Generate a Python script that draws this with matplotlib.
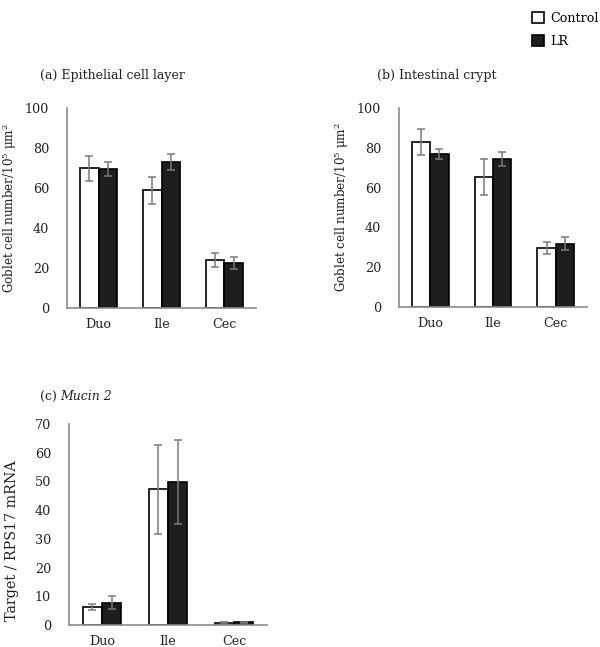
import numpy as np
import matplotlib
matplotlib.use("Agg")
import matplotlib.pyplot as plt

plt.rcParams['font.family'] = ['DejaVu Serif']
plt.rcParams['mathtext.fontset'] = 'dejavuserif'

sites = ["Duo", "Ile", "Cec"]
groups = ["Control", "LR"]

# (a) epithelial cell layer
epi_ctrl = [69.8, 58.8, 24.0]
epi_ctrl_err = [6.3, 6.8, 3.7]
epi_lr = [69.5, 72.8, 22.5]
epi_lr_err = [3.5, 4.0, 3.0]

# (b) intestinal crypt
cry_ctrl = [82.9, 65.3, 29.5]
cry_ctrl_err = [6.5, 9.0, 3.0]
cry_lr = [77.0, 74.5, 31.9]
cry_lr_err = [2.4, 3.5, 3.4]

# (c) Mucin 2
muc_ctrl = [6.2, 47.2, 0.7]
muc_ctrl_err = [1.0, 15.6, 0.2]
muc_lr = [7.8, 49.7, 0.9]
muc_lr_err = [2.2, 14.6, 0.3]

W, H = 600, 647
FS = 8.6
fig = plt.figure(figsize=(W / 100, H / 100), dpi=100)


def px_axes(left, right, top, bottom):
    return fig.add_axes([left / W, 1 - bottom / H, (right - left) / W, (bottom - top) / H])


def panel(ax, ctrl, ctrl_err, lr, lr_err, ymax, step, ylabel, lab_fs=FS):
    x = np.arange(len(sites))
    w = 0.29
    err_kw = dict(ecolor="#7a7a7a", elinewidth=1.1, capsize=3, capthick=1.1)
    b1 = ax.bar(x - w / 2, ctrl, w, yerr=ctrl_err, color="white", edgecolor="black",
                linewidth=1.2, error_kw=err_kw, label=groups[0])
    b2 = ax.bar(x + w / 2, lr, w, yerr=lr_err, color="#1e1e1e", edgecolor="black",
                linewidth=1.2, error_kw=err_kw, label=groups[1])
    ax.set_xlim(-0.5, len(sites) - 0.5)
    ax.set_ylim(0, ymax)
    ax.set_yticks(np.arange(0, ymax + 1, step))
    ax.set_xticks(x)
    ax.set_xticklabels(sites)
    for s in ["top", "right"]:
        ax.spines[s].set_visible(False)
    for s in ["left", "bottom"]:
        ax.spines[s].set_color("#8c8c8c")
        ax.spines[s].set_linewidth(1.2)
    ax.tick_params(axis="y", length=0, pad=13, labelsize=FS + 0.6, colors="#222222")
    ax.tick_params(axis="x", length=0, pad=7, labelsize=FS + 0.6, colors="#222222")
    ax.set_ylabel(ylabel, fontsize=lab_fs, color="#222222")
    return b1, b2


ax_a = px_axes(67, 256, 108, 308)
b1, b2 = panel(ax_a, epi_ctrl, epi_ctrl_err, epi_lr, epi_lr_err, 100, 20,
               r"Goblet cell number/10$^5$ μm$^2$")
ax_a.yaxis.set_label_coords(-(67 - 19) / 189, 0.5)

ax_b = px_axes(399, 587, 108, 307)
panel(ax_b, cry_ctrl, cry_ctrl_err, cry_lr, cry_lr_err, 100, 20,
      r"Goblet cell number/10$^5$ μm$^2$")
ax_b.yaxis.set_label_coords(-(399 - 351) / 188, 0.5)

ax_c = px_axes(69, 267, 424, 625)
panel(ax_c, muc_ctrl, muc_ctrl_err, muc_lr, muc_lr_err, 70, 10,
      "Target / RPS17 mRNA", lab_fs=10.3)
ax_c.yaxis.set_label_coords(-(69 - 19) / 198, 0.42)

fig.text(40 / W, 1 - 76 / H, "(a) Epithelial cell layer", fontsize=FS + 0.4, va="center",
         color="#222222")
fig.text(377 / W, 1 - 76 / H, "(b) Intestinal crypt", fontsize=FS + 0.4, va="center",
         color="#222222")
fig.text(40 / W, 1 - 397 / H, "(c) ", fontsize=FS + 0.4, va="center", color="#222222")
fig.text(60 / W, 1 - 397 / H, "Mucin 2", fontsize=FS + 0.4, va="center", style="italic",
         color="#222222")

fig.legend(handles=[b1, b2], labels=groups, loc="upper left",
           bbox_to_anchor=(520 / W, 1 - 0 / H), frameon=False, fontsize=FS + 0.6,
           handlelength=1.0, handleheight=1.0, handletextpad=0.5, labelspacing=0.8)

fig.savefig("out.png", dpi=100)
